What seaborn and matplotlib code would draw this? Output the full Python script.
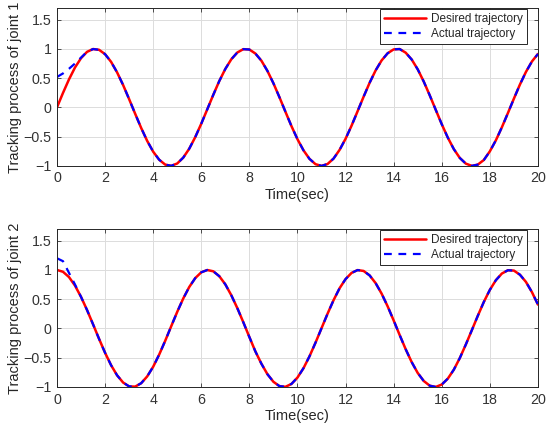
"""
Tracking process of joints 1 and 2: desired vs actual trajectory
"""
import matplotlib
matplotlib.use('Agg')
import matplotlib.pyplot as plt
import seaborn as sns
import numpy as np
import pandas as pd

# time axis (sec), read every 0.25 s
time = [i * 0.25 for i in range(81)]

# joint 1 desired trajectory
desired_1 = [0.000, 0.247, 0.479, 0.682, 0.841, 0.949, 0.997, 0.984, 0.909, 0.778,
             0.598, 0.382, 0.141, -0.108, -0.351, -0.572, -0.757, -0.895, -0.978, -0.999,
             -0.959, -0.859, -0.706, -0.508, -0.279, -0.033, 0.215, 0.451, 0.657, 0.823,
             0.938, 0.995, 0.989, 0.920, 0.798, 0.624, 0.412, 0.174, -0.075, -0.320,
             -0.544, -0.734, -0.880, -0.971, -1.000, -0.968, -0.875, -0.727, -0.537, -0.312,
             -0.066, 0.182, 0.420, 0.632, 0.803, 0.925, 0.991, 0.997, 0.935, 0.818,
             0.650, 0.442, 0.206, -0.042, -0.288, -0.516, -0.712, -0.864, -0.961, -1.000,
             -0.978, -0.899, -0.751, -0.563, -0.340, -0.098, 0.150, 0.390, 0.606, 0.785,
             0.913]
# joint 1 actual trajectory: starts near 0.5, merges by ~1.25 s
actual_1_start = [0.52, 0.58, 0.66, 0.75, 0.85, 0.95]

# joint 2 desired trajectory
desired_2 = [1.000, 0.969, 0.878, 0.732, 0.540, 0.315, 0.071, -0.178, -0.416, -0.628,
             -0.801, -0.924, -0.990, -0.994, -0.936, -0.820, -0.654, -0.446, -0.211, 0.038,
             0.284, 0.512, 0.709, 0.861, 0.960, 0.999, 0.977, 0.893, 0.754, 0.567,
             0.347, 0.105, -0.146, -0.392, -0.602, -0.781, -0.911, -0.985, -0.997, -0.948,
             -0.839, -0.679, -0.476, -0.243, 0.004, 0.251, 0.483, 0.687, 0.844, 0.950,
             0.998, 0.983, 0.907, 0.775, 0.595, 0.378, 0.137, -0.112, -0.355, -0.575,
             -0.760, -0.897, -0.978, -0.999, -0.958, -0.858, -0.705, -0.506, -0.275, -0.030,
             0.218, 0.454, 0.660, 0.825, 0.939, 0.995, 0.989, 0.919, 0.796, 0.621,
             0.408]
# joint 2 actual trajectory: starts near 1.2, merges by ~0.75 s
actual_2_start = [1.20, 1.15, 0.95, 0.75]

actual_1 = actual_1_start + desired_1[len(actual_1_start):]
actual_2 = actual_2_start + desired_2[len(actual_2_start):]

joints = [(desired_1, actual_1, 'Tracking process of joint 1'),
          (desired_2, actual_2, 'Tracking process of joint 2')]

sns.set_style('ticks')
plt.rcParams['font.family'] = ['Liberation Sans', 'DejaVu Sans']
plt.rcParams['axes.unicode_minus'] = True

fig = plt.figure(figsize=(5.5, 4.32), dpi=100)
positions = [[0.1036, 0.616, 0.8745, 0.3657],
             [0.1036, 0.1042, 0.8745, 0.3657]]

for pos, (des, act, ylab) in zip(positions, joints):
    ax = fig.add_axes(pos)
    sns.lineplot(x=time, y=des, ax=ax, color='#ff0000', linewidth=1.8,
                 label='Desired trajectory')
    sns.lineplot(x=time, y=act, ax=ax, color='#0000ff', linewidth=1.6,
                 label='Actual trajectory')
    ax.lines[1].set_dashes([3.5, 3])
    ax.set_xlim(0, 20)
    ax.set_ylim(-1, 1.7)
    ax.set_xticks(np.arange(0, 21, 2))
    ax.set_yticks([-1, -0.5, 0, 0.5, 1, 1.5])
    ax.set_yticklabels(['\u22121', '\u22120.5', '0', '0.5', '1', '1.5'])
    ax.grid(True, color='#dcdcdc', linewidth=0.7)
    ax.set_axisbelow(True)
    ax.tick_params(direction='in', length=3, width=0.6, labelsize=10.3,
                   colors='#333333', top=True, right=True, pad=4)
    for s in ax.spines.values():
        s.set_color('#262626')
        s.set_linewidth(0.7)
    ax.set_xlabel('Time(sec)', fontsize=10.5, color='#262626', labelpad=2)
    ax.set_ylabel(ylab, fontsize=10.5, color='#262626', labelpad=1)
    leg = ax.legend(loc='upper right', bbox_to_anchor=(0.977, 0.994),
                    fontsize=8.5, fancybox=False, framealpha=1,
                    edgecolor='#262626', borderpad=0.35, handlelength=3.5,
                    labelspacing=0.25, borderaxespad=0, handletextpad=0.45)
    leg.get_frame().set_linewidth(0.7)

fig.savefig('out.png', dpi=100)
